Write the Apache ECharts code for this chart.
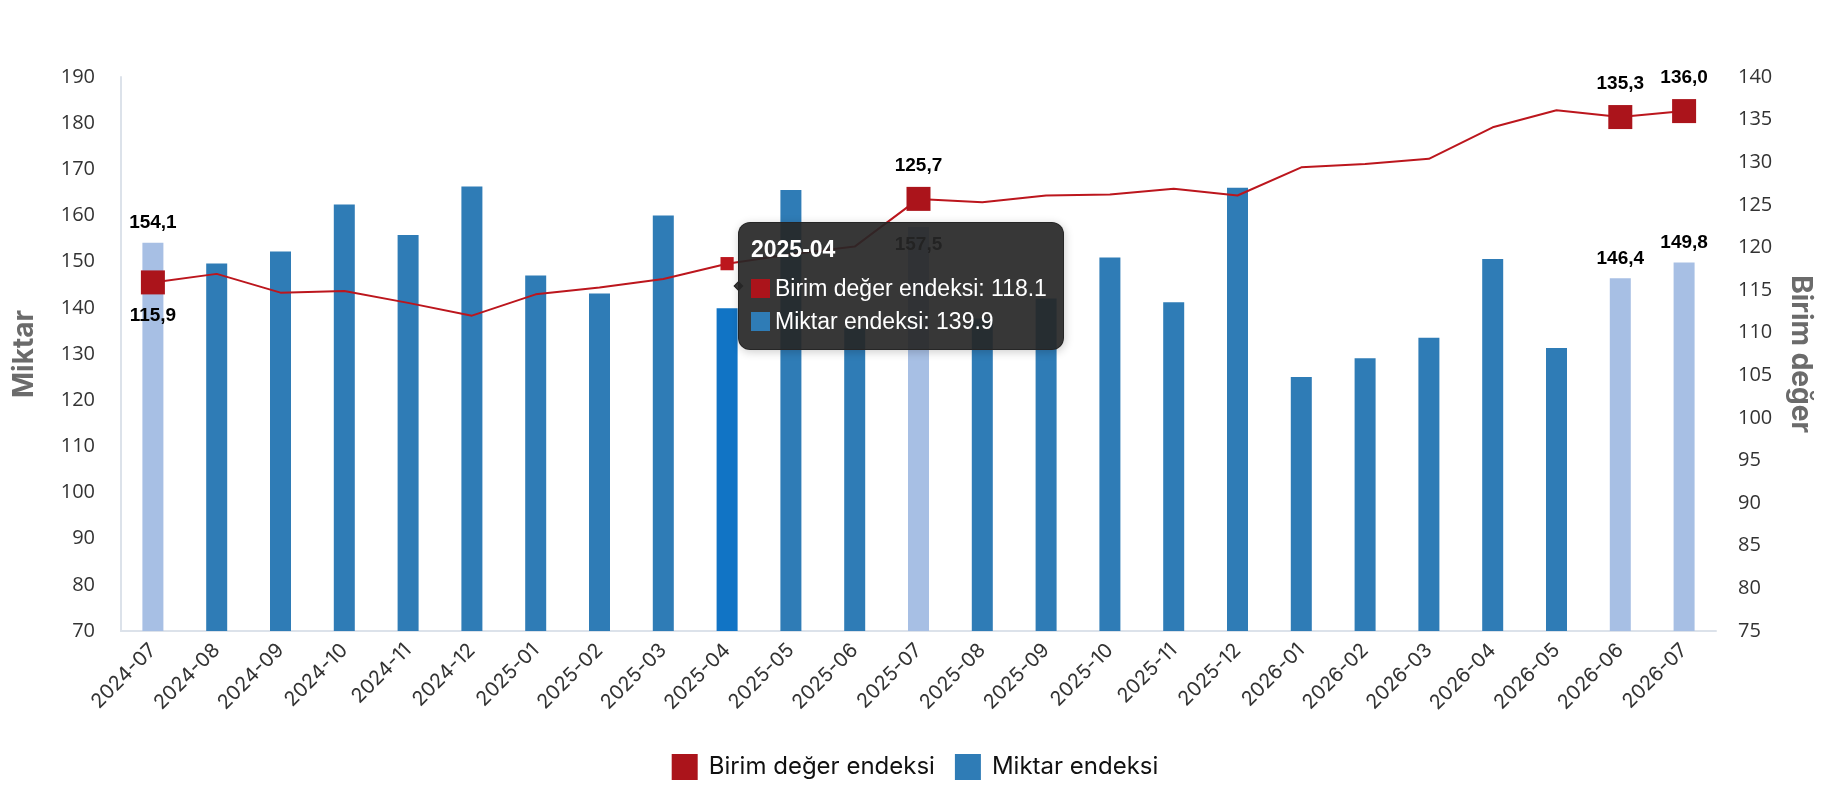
<!DOCTYPE html>
<html>
<head>
<meta charset="utf-8">
<script src="https://cdn.jsdelivr.net/npm/echarts@6/dist/echarts.min.js"></script>
<style>
  html, body { margin: 0; padding: 0; background: #fff; }
  #chart { width: 1830px; height: 800px; }
</style>
</head>
<body>
<div id="chart"></div>
<script>
// aylar
const categories = ['2024-07', '2024-08', '2024-09', '2024-10', '2024-11', '2024-12',
  '2025-01', '2025-02', '2025-03', '2025-04', '2025-05', '2025-06', '2025-07', '2025-08',
  '2025-09', '2025-10', '2025-11', '2025-12', '2026-01', '2026-02', '2026-03', '2026-04',
  '2026-05', '2026-06', '2026-07'];
// Miktar endeksi (sol eksen)
const miktar = [154.1, 149.6, 152.2, 162.4, 155.8, 166.3, 147.0, 143.1, 160.0, 139.9,
  165.5, 135.6, 157.5, 137.7, 142.0, 150.9, 141.2, 166.0, 125.0, 129.1, 133.5, 150.6,
  131.3, 146.4, 149.8];
// Birim değer endeksi (sağ eksen)
const birimDeger = [115.9, 116.9, 114.7, 114.9, 113.5, 112.0, 114.5, 115.3, 116.3, 118.1,
  119.2, 120.1, 125.7, 125.3, 126.1, 126.2, 126.9, 126.1, 129.4, 129.8, 130.4, 134.1,
  136.1, 135.3, 136.0];
// etiketli aylar
const vurgulu = [0, 12, 23, 24];

const RED = '#ab141b';
const BLUE = '#2f7cb6';
const LIGHT = '#a7bfe4';

const fmt = (v) => v.toFixed(1).replace('.', ',');

const lineData = birimDeger.map((v, i) => {
  if (vurgulu.includes(i)) {
    return {
      value: v,
      symbolSize: 24,
      label: {
        show: true,
        position: i === 0 ? 'bottom' : 'top',
        distance: 12
      }
    };
  }
  return {
    value: v,
    symbolSize: 12,
    itemStyle: { opacity: 0 },
    emphasis: { itemStyle: { opacity: 1 } }
  };
});

const barData = miktar.map((v, i) => {
  if (vurgulu.includes(i)) {
    return {
      value: v,
      itemStyle: { color: LIGHT },
      label: {
        show: true,
        position: i === 12 ? 'insideTop' : 'top',
        distance: i === 12 ? 8 : 10
      }
    };
  }
  return { value: v };
});

const myChart = echarts.init(document.getElementById('chart'));

const row = (color, name, v) =>
  '<div style="display:flex;align-items:center;height:33px">' +
  '<span style="display:inline-block;width:19px;height:19px;background:' + color +
  ';margin-right:5px"></span>' + name + ': ' + v + '</div>';

myChart.setOption({
  animation: false,
  textStyle: { fontFamily: 'Open Sans' },
  grid: { left: 121, right: 114, top: 77, bottom: 169, outerBoundsMode: 'none' },
  tooltip: {
    trigger: 'item',
    position: 'right',
    alwaysShowContent: true,
    backgroundColor: 'rgba(38,38,38,0.92)',
    borderColor: 'rgba(38,38,38,0.92)',
    borderRadius: 12,
    padding: [12, 16, 11, 12],
    extraCssText: 'margin-top:22px;margin-left:-5px;',
    textStyle: { color: '#fff', fontSize: 23, fontFamily: 'Liberation Sans' },
    formatter: (p) => {
      const i = p.dataIndex;
      return '<div style="font-weight:bold;font-size:23px;line-height:28px;margin-bottom:9px">' +
        categories[i] + '</div>' +
        row(RED, 'Birim değer endeksi', birimDeger[i]) +
        row(BLUE, 'Miktar endeksi', miktar[i]);
    }
  },
  legend: {
    top: 749,
    left: 'center',
    itemWidth: 26,
    itemHeight: 26,
    itemGap: 20,
    icon: 'rect',
    textStyle: { fontFamily: 'Inter', fontSize: 24, color: '#111', padding: [0, 0, 0, 6] },
    data: ['Birim değer endeksi', 'Miktar endeksi']
  },
  xAxis: {
    type: 'category',
    data: categories,
    axisTick: { show: false },
    axisLine: { lineStyle: { color: '#dce2ea', width: 2 } },
    axisLabel: {
      rotate: 45,
      margin: 16,
      interval: 0,
      color: '#333',
      fontFamily: 'Inter',
      fontSize: 20
    }
  },
  yAxis: [
    {
      type: 'value',
      min: 70,
      max: 190,
      interval: 10,
      name: 'Miktar',
      nameLocation: 'middle',
      nameGap: 82,
      nameRotate: 90,
      nameTextStyle: { fontFamily: 'Inter', fontWeight: 'bold', fontSize: 28, color: '#6b6b6b' },
      splitLine: { show: false },
      axisTick: { show: false },
      axisLine: { show: true, lineStyle: { color: '#dce2ea', width: 2 } },
      axisLabel: { color: '#333', fontSize: 20, margin: 26 }
    },
    {
      type: 'value',
      min: 75,
      max: 140,
      interval: 5,
      name: 'Birim değer',
      nameLocation: 'middle',
      nameGap: 70,
      nameRotate: -90,
      nameTextStyle: { fontFamily: 'Inter', fontWeight: 'bold', fontSize: 28, color: '#6b6b6b' },
      splitLine: { show: false },
      axisTick: { show: false },
      axisLine: { show: false },
      axisLabel: { color: '#333', fontSize: 20, margin: 22 }
    }
  ],
  series: [
    {
      name: 'Birim değer endeksi',
      type: 'line',
      yAxisIndex: 1,
      z: 3,
      data: lineData,
      symbol: 'rect',
      color: RED,
      lineStyle: { color: RED, width: 2 },
      itemStyle: { color: RED },
      label: {
        fontFamily: 'Liberation Sans',
        fontWeight: 'bold',
        fontSize: 19,
        color: '#000',
        formatter: (p) => fmt(p.value)
      }
    },
    {
      name: 'Miktar endeksi',
      type: 'bar',
      yAxisIndex: 0,
      barWidth: 21,
      data: barData,
      color: BLUE,
      itemStyle: { color: BLUE },
      emphasis: { itemStyle: { color: '#1174c5' } },
      label: {
        fontFamily: 'Liberation Sans',
        fontWeight: 'bold',
        fontSize: 19,
        color: '#000',
        formatter: (p) => fmt(p.value)
      }
    }
  ]
});

// 2025-04 üzerinde ipucu
myChart.dispatchAction({ type: 'highlight', seriesIndex: 0, dataIndex: 9 });
myChart.dispatchAction({ type: 'highlight', seriesIndex: 1, dataIndex: 9 });
myChart.dispatchAction({ type: 'showTip', seriesIndex: 0, dataIndex: 9 });

window.addEventListener('resize', () => {
  myChart.resize();
});
</script>
</body>
</html>
